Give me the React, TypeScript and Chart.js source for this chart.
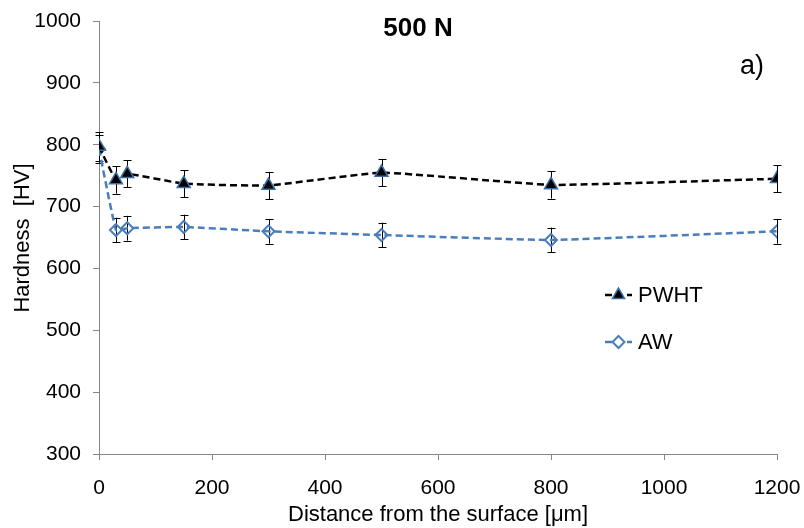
import React, { useEffect, useRef } from "react";
import { Chart, registerables } from "chart.js";

Chart.register(...registerables);

const distances = [0, 30, 50, 150, 300, 500, 800, 1200];
const pwhtValues = [797, 743, 753, 737, 734, 755, 735, 745];
const pwhtErrors = [23, 22, 22, 22, 22, 22, 22, 22];
const awValues = [793, 662, 665, 667, 660, 654, 646, 660];
const awErrors = [22, 20, 20, 20, 20, 20, 20, 20];

const xTicks = [0, 200, 400, 600, 800, 1000, 1200];
const yTicks = [300, 400, 500, 600, 700, 800, 900, 1000];

const titleText = "500 N";
const panelLabel = "a)";
const yTitle = "Hardness  [HV]";
const xTitle = "Distance from the surface [\u03bcm]";
const seriesNames = ["PWHT", "AW"];

const FONT = "'Liberation Sans', Arial, sans-serif";
const BLACK_LINE = "#000000";
const BLUE = "#4a7ebb";
const TRI_BORDER = "#3c6ea6";
const AXIS = "#868686";

const errors = [pwhtErrors, awErrors];

const overlayPlugin = {
  id: "overlay",
  beforeDatasetsDraw(chart: any) {
    const ctx = chart.ctx;
    const xs = chart.scales.x;
    const ys = chart.scales.y;
    ctx.save();
    ctx.strokeStyle = "#000";
    ctx.lineWidth = 1;
    chart.data.datasets.forEach((ds: any, i: number) => {
      ds.data.forEach((p: any, j: number) => {
        const e = errors[i][j];
        const x = Math.round(xs.getPixelForValue(p.x)) + 0.5;
        const y1 = ys.getPixelForValue(p.y + e);
        const y2 = ys.getPixelForValue(p.y - e);
        ctx.beginPath();
        ctx.moveTo(x, y1);
        ctx.lineTo(x, y2);
        ctx.moveTo(x - 4, Math.round(y1) + 0.5);
        ctx.lineTo(x + 4, Math.round(y1) + 0.5);
        ctx.moveTo(x - 4, Math.round(y2) + 0.5);
        ctx.lineTo(x + 4, Math.round(y2) + 0.5);
        ctx.stroke();
      });
    });
    ctx.restore();
  },
  afterDraw(chart: any) {
    const ctx = chart.ctx;
    ctx.save();
    ctx.fillStyle = "#000";
    ctx.textAlign = "center";
    ctx.textBaseline = "middle";
    ctx.font = `bold 26px ${FONT}`;
    ctx.fillText(titleText, 418, 29);
    ctx.font = `27px ${FONT}`;
    ctx.fillText(panelLabel, 752, 67);

    // y title
    ctx.save();
    ctx.translate(23, 238);
    ctx.rotate(-Math.PI / 2);
    ctx.font = `22px ${FONT}`;
    ctx.fillText(yTitle, 0, 0);
    ctx.restore();

    // legend
    const items = [
      { y: 295, color: BLACK_LINE, marker: "tri" },
      { y: 342, color: BLUE, marker: "dia" },
    ];
    items.forEach((it, k) => {
      ctx.save();
      ctx.strokeStyle = it.color;
      ctx.lineWidth = 2.5;
      ctx.setLineDash([7, 4]);
      ctx.beginPath();
      ctx.moveTo(605, it.y);
      ctx.lineTo(632, it.y);
      ctx.stroke();
      ctx.setLineDash([]);
      const cx = 618.5;
      if (it.marker === "tri") {
        const r = 7;
        ctx.beginPath();
        ctx.moveTo(cx, it.y - r);
        ctx.lineTo(cx + r * 0.866, it.y + r * 0.5);
        ctx.lineTo(cx - r * 0.866, it.y + r * 0.5);
        ctx.closePath();
        ctx.fillStyle = "#000";
        ctx.fill();
        ctx.strokeStyle = TRI_BORDER;
        ctx.lineWidth = 1.5;
        ctx.stroke();
      } else {
        const r = 6;
        ctx.beginPath();
        ctx.moveTo(cx, it.y - r);
        ctx.lineTo(cx + r, it.y);
        ctx.lineTo(cx, it.y + r);
        ctx.lineTo(cx - r, it.y);
        ctx.closePath();
        ctx.fillStyle = "#fff";
        ctx.fill();
        ctx.strokeStyle = BLUE;
        ctx.lineWidth = 2;
        ctx.stroke();
      }
      ctx.restore();
      ctx.fillStyle = "#000";
      ctx.textAlign = "left";
      ctx.font = `22px ${FONT}`;
      ctx.fillText(seriesNames[k], 638, it.y + 1);
    });
    ctx.restore();
  },
};

export default function App() {
  const ref = useRef<HTMLCanvasElement | null>(null);

  useEffect(() => {
    document.body.style.margin = "0";
    const canvas = ref.current;
    if (!canvas) return;
    const chart = new Chart(canvas, {
      type: "scatter",
      data: {
        datasets: [
          {
            label: seriesNames[0],
            data: distances.map((d, i) => ({ x: d, y: pwhtValues[i] })),
            showLine: true,
            borderColor: BLACK_LINE,
            borderWidth: 2.5,
            borderDash: [7, 4],
            tension: 0.1,
            pointStyle: "triangle",
            pointRadius: 7.5,
            pointBackgroundColor: "#000",
            pointBorderColor: TRI_BORDER,
            pointBorderWidth: 1.5,
          },
          {
            label: seriesNames[1],
            data: distances.map((d, i) => ({ x: d, y: awValues[i] })),
            showLine: true,
            borderColor: BLUE,
            borderWidth: 2.5,
            borderDash: [7, 4],
            tension: 0.1,
            pointStyle: "rectRot",
            pointRadius: 6,
            pointBackgroundColor: "rgba(255,255,255,0)",
            pointBorderColor: BLUE,
            pointBorderWidth: 2,
          },
        ],
      },
      options: {
        responsive: false,
        animation: false,
        layout: { padding: { top: 21, right: 27, left: 0, bottom: 0 } },
        plugins: {
          legend: { display: false },
          tooltip: { enabled: false },
        },
        scales: {
          x: {
            type: "linear",
            min: xTicks[0],
            max: xTicks[xTicks.length - 1],
            afterBuildTicks: (s: any) => {
              s.ticks = xTicks.map((v) => ({ value: v }));
            },
            afterFit: (s: any) => {
              s.height = 74;
              s.paddingLeft = 0;
              s.paddingRight = 0;
            },
            ticks: {
              color: "#000",
              font: { family: FONT, size: 21 },
              padding: 16,
              maxRotation: 0,
              callback: (v: any) => String(v),
            },
            grid: {
              drawOnChartArea: false,
              drawTicks: true,
              tickLength: 6,
              color: AXIS,
            },
            border: { color: AXIS, width: 1 },
            title: {
              display: true,
              text: xTitle,
              color: "#000",
              font: { family: "'Liberation Sans Narrow', " + FONT, size: 22 },
              padding: { top: 0, bottom: 0 },
            },
          },
          y: {
            type: "linear",
            min: yTicks[0],
            max: yTicks[yTicks.length - 1],
            afterBuildTicks: (s: any) => {
              s.ticks = yTicks.map((v) => ({ value: v }));
            },
            afterFit: (s: any) => {
              s.width = 99;
              s.paddingTop = 0;
              s.paddingBottom = 0;
            },
            ticks: {
              color: "#000",
              font: { family: FONT, size: 21 },
              padding: 12,
              callback: (v: any) => String(v),
            },
            grid: {
              drawOnChartArea: false,
              drawTicks: true,
              tickLength: 6,
              color: AXIS,
            },
            border: { color: AXIS, width: 1 },
          },
        },
      },
      plugins: [overlayPlugin],
    } as any);
    return () => chart.destroy();
  }, []);

  return (
    <div style={{ width: 804, height: 528 }}>
      <canvas ref={ref} width={804} height={528} style={{ display: "block" }} />
    </div>
  );
}
